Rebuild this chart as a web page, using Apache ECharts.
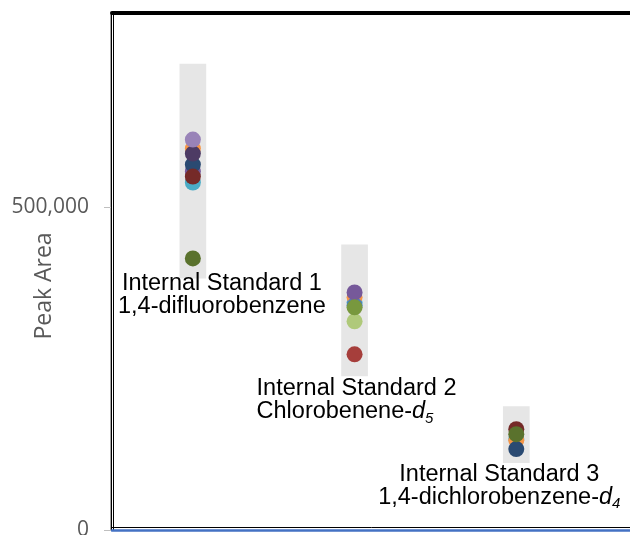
<!DOCTYPE html>
<html><head><meta charset="utf-8">
<script src="https://cdn.jsdelivr.net/npm/echarts@6/dist/echarts.min.js"></script>
<style>html,body{margin:0;padding:0;background:#fff}#c{width:630px;height:535px}</style>
</head><body><div id="c"></div>
<script>
// ---- data ----
const categories = ['Internal Standard 1', 'Internal Standard 2', 'Internal Standard 3'];
const subtitles = ['1,4-difluorobenzene', 'Chlorobenene-{i|d}{sub|5}', '1,4-dichlorobenzene-{i|d}{sub|4}'];
const categoryX = [1, 2, 3];
const rangeLow = [390000, 238400, 103700];
const rangeHigh = [722900, 442700, 192000];
const yTickValues = [0, 500000];
const yAxisTitle = 'Peak Area';

// sample values per internal standard (null = hidden / not visible)
const sCyan        = [538700, 352900, 140900];
const sOrange      = [591300, 360700, 139000];
const sBlue        = [null,   348300, null];
const sPurple      = [555700, 368400, null];
const sLightGreen  = [null,   323500, null];
const sGreen       = [null,   345200, null];
const sRed         = [null,   272400, null];
const sNavy        = [566600, null,   125400];
const sDarkRed     = [548000, null,   156300];
const sOlive       = [421100, null,   148600];
const sDarkPurple  = [583600, null,   null];
const sLightPurple = [605300, null,   null];

// ---- styles ----
const samples = [
  {name: 'Cyan', values: sCyan, color: '#4bacc6'},
  {name: 'Orange', values: sOrange, color: '#f79646'},
  {name: 'Blue', values: sBlue, color: '#4a7bbd'},
  {name: 'Purple', values: sPurple, color: '#76599a'},
  {name: 'Light green', values: sLightGreen, color: '#afc97a'},
  {name: 'Green', values: sGreen, color: '#78983e'},
  {name: 'Red', values: sRed, color: '#a63e3b'},
  {name: 'Navy', values: sNavy, color: '#2a4a72'},
  {name: 'Dark red', values: sDarkRed, color: '#752a28'},
  {name: 'Olive', values: sOlive, color: '#5a722d'},
  {name: 'Dark purple', values: sDarkPurple, color: '#4d3b64'},
  {name: 'Light purple', values: sLightPurple, color: '#9983b8'}
];
const FONT = "'Liberation Sans', Arial, sans-serif";
const AXIS_FONT = "'Open Sans', sans-serif";
const BAR_W = 0.165;
const labelLayout = [
  {dx: 29, dy: 17, align: 'center'},
  {dx: -98, dy: 24, align: 'left'},
  {dx: -17, dy: 22.5, align: 'center'}
];
const rich = {
  i: {fontStyle: 'italic', fontSize: 23.5, fontFamily: FONT, lineHeight: 23, fill: '#000'},
  sub: {fontStyle: 'italic', fontSize: 15, fontFamily: FONT, lineHeight: 9, padding: [14, 0, 0, 0], fill: '#000'}
};

const chart = echarts.init(document.getElementById('c'));
const hiddenAxis = {axisTick: {show: false}, axisLabel: {show: false}, splitLine: {show: false}};

const option = {
  backgroundColor: '#fff',
  animation: false,
  grid: {left: 112, top: 14, right: -48, bottom: 5, containLabel: false, outerBoundsMode: 'none'},
  graphic: [{
    type: 'text', x: 44, y: 286, rotation: Math.PI / 2,
    style: {text: yAxisTitle, fill: '#595959', fontFamily: AXIS_FONT, fontSize: 23,
      align: 'center', verticalAlign: 'middle'}
  }],
  xAxis: [
    Object.assign({type: 'value', min: 0.5, max: 4, position: 'bottom',
      axisLine: {show: true, onZero: false, lineStyle: {color: '#4472c4', width: 2.5}}}, hiddenAxis),
    Object.assign({type: 'value', min: 0.5, max: 4, position: 'bottom', offset: -3,
      axisLine: {show: true, onZero: false, lineStyle: {color: '#000', width: 1}}}, hiddenAxis),
    Object.assign({type: 'value', min: 0.5, max: 4, position: 'top', offset: 1,
      axisLine: {show: true, onZero: false, lineStyle: {color: '#000', width: 4}}}, hiddenAxis)
  ],
  yAxis: [
    {type: 'value', min: 0, max: 800000, position: 'left', offset: 1,
      axisLine: {show: true, onZero: false, lineStyle: {color: '#000', width: 1}},
      axisTick: {show: true, length: 7, lineStyle: {color: '#bfbfbf'}, customValues: yTickValues},
      axisLabel: {color: '#595959', fontFamily: AXIS_FONT, fontSize: 21, margin: 22, customValues: yTickValues,
        formatter: v => String(v).replace(/\B(?=(\d{3})+(?!\d))/g, ',')},
      splitLine: {show: false}},
    Object.assign({type: 'value', min: 0, max: 800000, position: 'left', offset: -1,
      axisLine: {show: true, onZero: false, lineStyle: {color: '#000', width: 1}}}, hiddenAxis),
    Object.assign({type: 'value', min: 0, max: 800000, position: 'left', offset: 2,
      axisLine: {show: true, onZero: false, lineStyle: {color: '#a6a6a6', width: 1}}}, hiddenAxis)
  ],
  series: [
    {
      type: 'custom', name: 'Range', z: 1, clip: false,
      encode: {x: 0, y: [1, 2]},
      data: categoryX.map((x, i) => [x, rangeLow[i], rangeHigh[i]]),
      renderItem: (params, api) => {
        const i = params.dataIndex;
        const x = api.value(0);
        const lo = api.coord([x, api.value(1)]);
        const hi = api.coord([x, api.value(2)]);
        const w = api.size([BAR_W, 0])[0];
        const L = labelLayout[i];
        return {
          type: 'group',
          children: [
            {type: 'rect', shape: {x: lo[0] - w / 2, y: hi[1], width: w, height: lo[1] - hi[1]},
              style: {fill: '#e6e6e6'}},
            {type: 'text', x: lo[0] + L.dx, y: lo[1] + L.dy,
              style: {text: categories[i] + '\n' + subtitles[i], fill: '#000', fontSize: 23.5,
                fontFamily: FONT, lineHeight: 23, align: L.align, verticalAlign: 'middle', rich: rich}}
          ]
        };
      }
    }
  ].concat(samples.map(s => ({
    type: 'scatter', name: s.name, z: 3, symbolSize: 16,
    itemStyle: {color: s.color, opacity: 1},
    data: s.values.map((v, i) => v == null ? null : [categoryX[i], v]).filter(Boolean)
  })))
};
chart.setOption(option);
</script>
</body></html>
